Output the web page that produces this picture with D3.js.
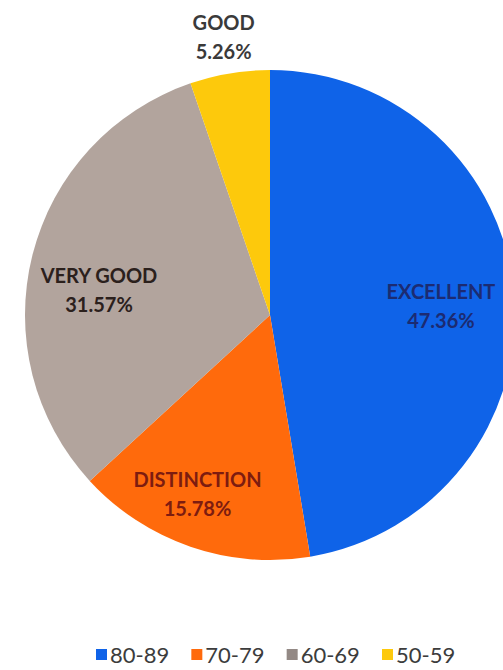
<!DOCTYPE html>
<html>
<head>
<meta charset="utf-8">
<script src="https://cdn.jsdelivr.net/npm/d3@7"></script>
<style>
  html, body { margin: 0; padding: 0; background: #ffffff; overflow: hidden; }
  svg { display: block; }
</style>
</head>
<body>
<svg id="chart" width="503" height="670"></svg>
<script>
// ---- data ----
const categories = ["EXCELLENT", "DISTINCTION", "VERY GOOD", "GOOD"];
const percents = [47.36, 15.78, 31.57, 5.26];
const percentLabels = ["47.36%", "15.78%", "31.57%", "5.26%"];
const legendLabels = ["80-89", "70-79", "60-69", "50-59"];

// ---- styles / layout ----
const sliceColors = ["#0f63e8", "#ff6a0c", "#b2a49d", "#fdc90c"];
const legendColors = ["#0f63e8", "#ff6a0c", "#938985", "#fdc90c"];
const labelColors = ["#1c2b72", "#7d1c10", "#2b201c", "#3a3a3a"];
const labelRadius = [0.70, 0.81, 0.72, 1.15];
const labelDy = [6, -8, 19, 0];
const labelDx = [0, -8, 0, 0];

const W = 503, H = 670;
const cx = 270, cy = 315, R = 245;

const svg = d3.select("#chart");
const g = svg.append("g").attr("transform", `translate(${cx},${cy})`);

const data = categories.map((c, i) => ({ cat: c, value: percents[i], pct: percentLabels[i], i }));

const pie = d3.pie().value(d => d.value).sort(null);
const arc = d3.arc().innerRadius(0).outerRadius(R);
const arcs = pie(data);

g.selectAll("path.slice")
  .data(arcs)
  .join("path")
  .attr("class", "slice")
  .attr("d", arc)
  .attr("fill", d => sliceColors[d.data.i]);

const labels = g.selectAll("g.lbl")
  .data(arcs)
  .join("g")
  .attr("class", "lbl")
  .attr("transform", d => {
    const r = R * labelRadius[d.data.i];
    const la = d3.arc().innerRadius(r).outerRadius(r);
    const [x, y] = la.centroid(d);
    return `translate(${x + labelDx[d.data.i]},${y + labelDy[d.data.i]})`;
  });

labels.append("text")
  .attr("text-anchor", "middle")
  .attr("y", -14.5)
  .attr("dy", "0.35em")
  .attr("font-family", "Lato, 'Open Sans', sans-serif")
  .attr("font-weight", "bold")
  .attr("font-size", 20)
  .attr("fill", d => labelColors[d.data.i])
  .text(d => d.data.cat);

labels.append("text")
  .attr("text-anchor", "middle")
  .attr("y", 14.5)
  .attr("dy", "0.35em")
  .attr("font-family", "Lato, 'Open Sans', sans-serif")
  .attr("font-weight", "bold")
  .attr("font-size", 20)
  .attr("fill", d => labelColors[d.data.i])
  .text(d => d.data.pct);

// ---- legend ----
const legendX = d3.scalePoint().domain(legendLabels).range([96, 382]);
const legend = svg.append("g").attr("class", "legend");
const items = legend.selectAll("g.item")
  .data(legendLabels)
  .join("g")
  .attr("class", "item")
  .attr("transform", d => `translate(${legendX(d)},655)`);

items.append("rect")
  .attr("x", 0).attr("y", -6)
  .attr("width", 11).attr("height", 11)
  .attr("fill", (d, i) => legendColors[i]);

items.append("text")
  .attr("x", 14)
  .attr("y", 0)
  .attr("dy", "0.35em")
  .attr("font-family", "Lato, 'Open Sans', sans-serif")
  .attr("font-size", 22)
  .attr("fill", "#3c3c3c")
  .text(d => d);
</script>
</body>
</html>
